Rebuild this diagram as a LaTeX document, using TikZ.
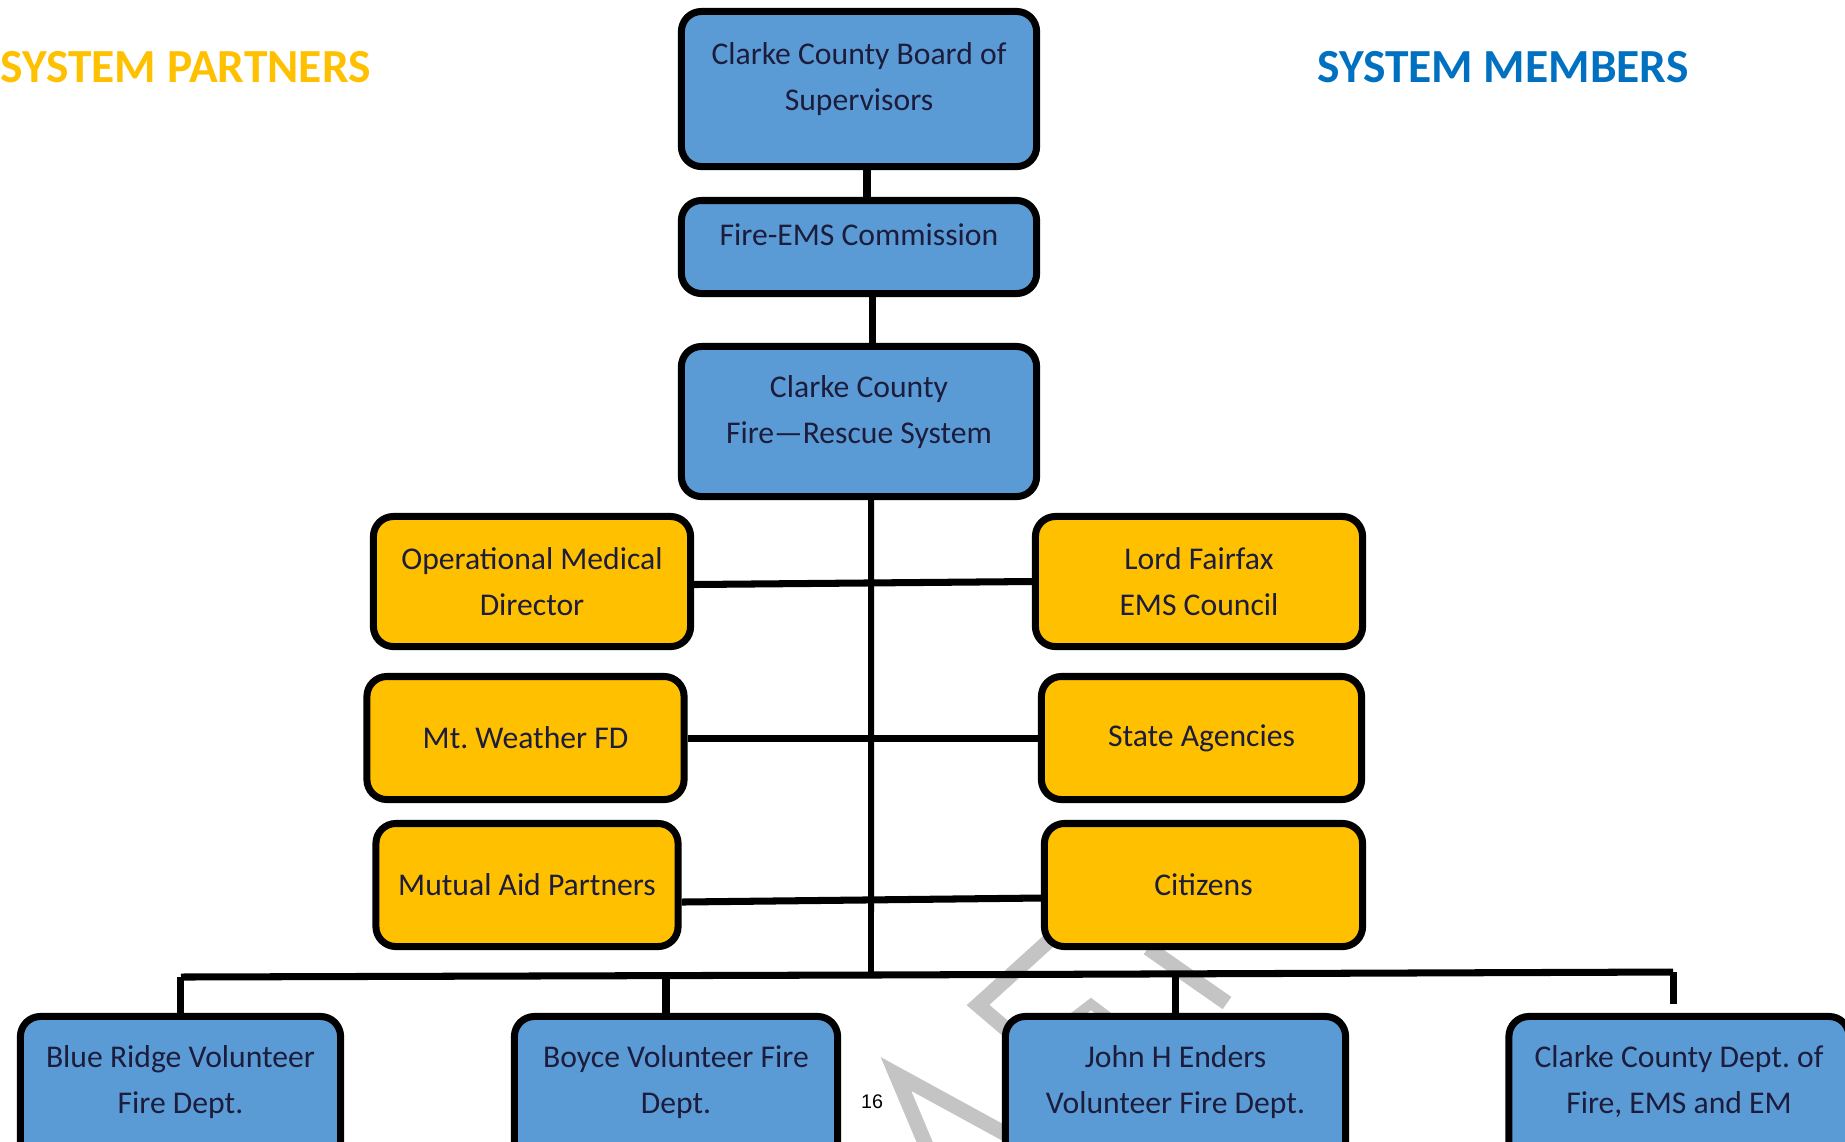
\documentclass[tikz,border=0pt]{standalone}
\usepackage{fontspec}
\setmainfont{Carlito}
\newfontfamily\pagefont{Liberation Sans}
\frenchspacing

\definecolor{boxblue}{HTML}{5B9BD5}
\definecolor{boxgold}{HTML}{FFC000}
\definecolor{headblue}{HTML}{0070C0}
\definecolor{boxtext}{HTML}{1C1C3C}
\definecolor{wmgray}{HTML}{C4C4C4}

\begin{document}
\begin{tikzpicture}[x=0.01cm,y=-0.01cm,
	box/.style={draw=black,line width=2pt,rounded corners=0.2cm,align=center,text=boxtext,inner sep=0pt,font=\fontsize{9}{13}\selectfont},
	member/.style={box,fill=boxblue},
	partner/.style={box,fill=boxgold},
	head/.style={inner sep=0pt,font=\fontsize{13.5}{16}\selectfont\bfseries},
	link/.style={line width=2pt},
	wm/.style={draw=wmgray,line width=0.15cm}]
	\useasboundingbox (0,0) rectangle (1845,1141);
	\clip (0,0) rectangle (1845,1141);
	\draw[wm] (1052,938) -- (978,1005) -- (1012,1034);
	\draw[wm] (1148,948) -- (1227,1003);
	\draw[wm,line width=0.1cm] (1070,1020) -- (1091,1004) -- (1112,1020);
	\draw[wm] (928,1150) -- (896,1074) -- (1035,1150);
	\node[head,anchor=west,text=boxgold] (P) at (0,67) {SYSTEM PARTNERS};
	\node[head,text=headblue] (Mb) at (1503,67) {SYSTEM MEMBERS};
	\node[member,minimum width=3.55cm,minimum height=1.55cm] (B) at (859,89) {Clarke County Board of\\Supervisors\\[-6pt]\mbox{}};
	\node[member,minimum width=3.55cm,minimum height=0.93cm] (F) at (859,247) {Fire-EMS Commission\\[-6pt]\mbox{}};
	\node[member,minimum width=3.55cm,minimum height=1.50cm] (R) at (859,421.5) {Clarke County\\Fire—Rescue System\\[-6pt]\mbox{}};
	\node[partner,minimum width=3.17cm,minimum height=1.30cm] (O) at (532,581.5) {Operational Medical\\Director};
	\node[partner,minimum width=3.27cm,minimum height=1.30cm] (L) at (1199,581.5) {Lord Fairfax\\EMS Council};
	\node[partner,minimum width=3.17cm,minimum height=1.23cm] (W) at (525.5,738) {Mt. Weather FD};
	\node[partner,minimum width=3.20cm,minimum height=1.23cm] (S) at (1201.5,738) {State Agencies};
	\node[partner,minimum width=3.02cm,minimum height=1.23cm] (M) at (527,885) {Mutual Aid Partners};
	\node[partner,minimum width=3.18cm,minimum height=1.23cm] (C) at (1203.5,885) {Citizens};
	\node[member,minimum width=3.20cm,minimum height=1.50cm] (BR) at (180.5,1091.5) {Blue Ridge Volunteer\\Fire Dept.\\[-6pt]\mbox{}};
	\node[member,minimum width=3.23cm,minimum height=1.50cm] (BY) at (676,1091.5) {Boyce Volunteer Fire\\Dept.\\[-6pt]\mbox{}};
	\node[member,minimum width=3.40cm,minimum height=1.50cm] (JE) at (1175.5,1091.5) {John H Enders\\Volunteer Fire Dept.\\[-6pt]\mbox{}};
	\node[member,minimum width=3.40cm,minimum height=1.50cm] (CD) at (1679,1091.5) {Clarke County Dept. of\\Fire, EMS and EM\\[-6pt]\mbox{}};
	\node[font=\pagefont\fontsize{5.6}{7}\selectfont] (pg) at (872,1102) {16};
	\coordinate (hub) at (871,975);
	\coordinate (busL) at (181,977);
	\coordinate (busR) at (1673,972);
	\draw[link] ([xshift=0.08cm]B.south) -- ([xshift=0.08cm]F.north);
	\draw[link] ([xshift=0.13cm]F.south) -- ([xshift=0.13cm]R.north);
	\draw[link,line width=1.7pt] ([xshift=0.12cm]R.south) -- (hub);
	\draw[link] ([yshift=-0.03cm]O.east) -- (L.west);
	\draw[link] (W.east) -- (S.west);
	\draw[link] ([yshift=-0.17cm]M.east) -- ([yshift=-0.13cm]C.west);
	\draw[link] (busL) -- (hub) -- (busR);
	\draw[link] (BR.north) -- (BR.north |- busL);
	\draw[link] ([xshift=-0.1cm]BY.north) -- ([xshift=-0.1cm]BY.north |- busL);
	\draw[link] (JE.north) -- (JE.north |- hub);
	\draw[link] ([yshift=0.09cm]CD.north -| busR) -- (busR);
\end{tikzpicture}
\end{document}
